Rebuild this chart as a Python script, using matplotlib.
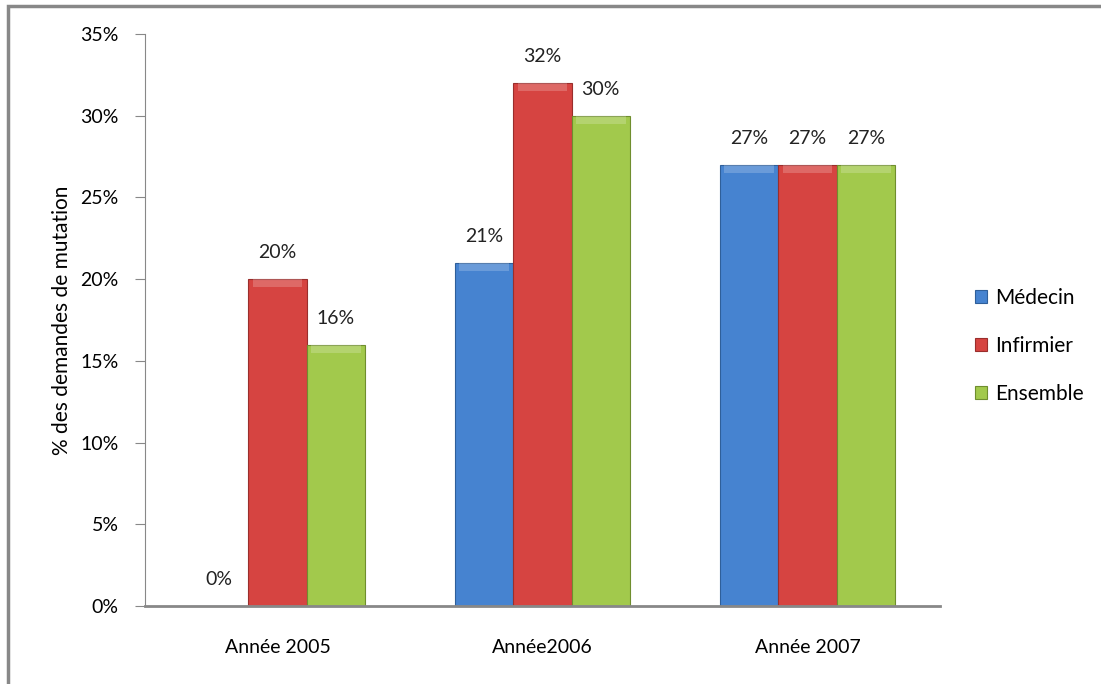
import matplotlib
matplotlib.use("Agg")
import matplotlib.pyplot as plt
import numpy as np
from matplotlib.patches import Rectangle

# donnees du graphique
annees = ["Année 2005", "Année2006", "Année 2007"]
series = ["Médecin", "Infirmier", "Ensemble"]
medecin = [0, 21, 27]
infirmier = [20, 32, 27]
ensemble = [16, 30, 27]

couleurs = ["#4683D0", "#D64441", "#A2C94C"]
bords = ["#2F5F9A", "#9A2E2C", "#6F8E2E"]

plt.rcParams['font.family'] = ['Lato', 'DejaVu Sans']

fig = plt.figure(figsize=(11.01, 6.84), dpi=100)
ax = fig.add_axes([0.1317, 0.114, 0.722, 0.8363])

x = np.arange(len(annees))
largeur = 0.22
valeurs = [medecin, infirmier, ensemble]

for i, (nom, vals) in enumerate(zip(series, valeurs)):
    pos = x + (i - 1) * largeur
    ax.bar(pos, vals, largeur, color=couleurs[i], edgecolor=bords[i],
           linewidth=0.8, label=nom, zorder=2)
    # petit effet de relief en haut de chaque barre
    ax.bar(pos, [0.5 if v > 0 else 0 for v in vals], largeur * 0.85,
           bottom=[v - 0.5 for v in vals], color="white", alpha=0.2,
           linewidth=0, zorder=3)
    for p, v in zip(pos, vals):
        ax.text(p, v + 1.1, f"{v}%", ha="center", va="bottom", fontsize=14,
                color="#222222")

ax.set_xlim(-0.5, len(annees) - 0.5)
ax.set_ylim(0, 35)
ax.set_yticks(np.arange(0, 36, 5))
ax.set_yticklabels([f"{t}%" for t in range(0, 36, 5)], fontsize=14)
ax.set_xticks(x)
ax.set_xticklabels(annees, fontsize=14)
ax.tick_params(axis="x", length=0, pad=24)
ax.tick_params(axis="y", length=7, color="#888888", pad=12)
ax.set_ylabel("% des demandes de mutation", fontsize=15, labelpad=6)

for s in ["top", "right"]:
    ax.spines[s].set_visible(False)
ax.spines["left"].set_color("#888888")
ax.spines["bottom"].set_color("#888888")
ax.spines["bottom"].set_linewidth(2)

ax.legend(loc="center left", bbox_to_anchor=(1.02, 0.455), frameon=False,
          fontsize=15, handlelength=0.6, handleheight=0.6,
          labelspacing=1.35, handletextpad=0.4)

# cadre gris autour du graphique
fig.patches.append(Rectangle((0.0073, -0.1), 1.2, 1.091, transform=fig.transFigure,
                             fill=False, edgecolor="#888888", linewidth=2.5))

fig.savefig("out.png", dpi=100)
